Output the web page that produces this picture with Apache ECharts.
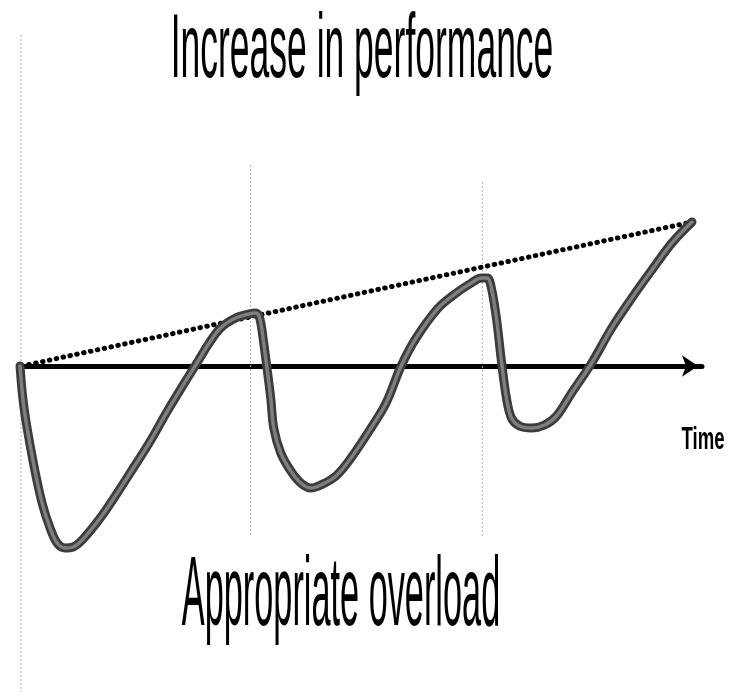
<!DOCTYPE html>
<html>
<head>
<meta charset="utf-8">
<script src="https://cdn.jsdelivr.net/npm/echarts@6/dist/echarts.min.js"></script>
<style>html,body{margin:0;padding:0;background:#fff}#c{width:738px;height:696px}</style>
</head>
<body>
<div id="c"></div>
<script>
// Time (x) and performance (y) in arbitrary units; 0 = baseline
const perfCurve = [
  [0,0],[0.4,-4.2],[1.3,-9.5],[2.2,-13.7],[3,-16.2],[3.7,-17.7],[4.5,-18.2],[5.3,-18.1],[6.2,-17.4],
  [8,-15.2],[9.7,-12.7],[11.3,-10.2],[13,-7.5],[14.7,-4.5],[16.7,-1.2],[17.7,0.4],[18.8,2.2],[20,3.8],
  [21.5,4.8],[22.8,5.2],[23.5,5.3],[23.9,4.8],[24.3,2.3],[24.6,0],[25,-3.2],[25.3,-6.2],[26,-8.7],
  [27,-10.5],[28,-11.7],[29,-12.2],[30,-11.9],[31.5,-11],[33,-9.2],[35,-6.2],[36.5,-3.7],[38,0],
  [39.5,2.8],[41.7,5.8],[43.5,7.3],[45,8.3],[46,8.8],[46.6,8.8],[47,7.8],[47.5,4.8],[48,0.5],
  [48.5,-3.2],[49,-5.2],[49.8,-6],[51,-6.2],[52.3,-5.9],[53.5,-5],[55,-2.7],[57,0.3],[59,3.8],
  [61,6.8],[63,9.6],[65,12.3],[67,14.4]
];
const trendLine = [[0.2,0],[67,14.4]];
const guideLines = [
  [[0.1,33.1],[0.1,-32.6]],
  [[23,20.1],[23,-16.9]],
  [[46.1,18.4],[46.1,-17.1]]
];
const titleText = 'Increase in performance';
const bottomText = 'Appropriate overload';
const axisName = 'Time';

const chart = echarts.init(document.getElementById('c'), null, {renderer:'canvas'});
const series = [];
guideLines.forEach(g => series.push({
  type:'line', data:g, symbol:'none', silent:true, z:1,
  lineStyle:{color:'#b0b0b0', width:1, type:[2,2]}
}));
series.push({
  type:'line', data:trendLine, symbol:'none', z:3,
  lineStyle:{color:'#000', width:5, type:[0.5,6.5], cap:'round'}
});
series.push({
  type:'line', data:perfCurve, symbol:'none', smooth:0.35, z:4,
  lineStyle:{color:'#3c3c3c', width:9, cap:'round', join:'round'}
});
series.push({
  type:'line', data:perfCurve, symbol:'none', smooth:0.35, z:5,
  lineStyle:{color:'#7e7e7e', width:3.5, cap:'round', join:'round'}
});

chart.setOption({
  animation:false,
  backgroundColor:'#fff',
  grid:{left:20, right:36, top:6, bottom:0},
  xAxis:{type:'value', min:0, max:68, axisTick:{show:false}, axisLabel:{show:false}, splitLine:{show:false},
    axisLine:{show:true, onZero:true, symbol:['none','arrow'], symbolSize:[16,16], symbolOffset:[0,-4],
      lineStyle:{color:'#000', width:5}}},
  yAxis:{type:'value', min:-33, max:36, show:false, splitLine:{show:false}},
  series:series,
  graphic:[
    {type:'text', x:362, y:52, scaleX:0.39, z:10,
      style:{text:titleText, font:'normal 91px "Liberation Sans", Arial, sans-serif', fill:'#000', textAlign:'center', textVerticalAlign:'middle'}},
    {type:'text', x:341, y:598, scaleX:0.35, z:10,
      style:{text:bottomText, font:'normal 98px "Liberation Sans", Arial, sans-serif', fill:'#000', textAlign:'center', textVerticalAlign:'middle'}},
    {type:'text', x:703, y:440, scaleX:0.6, z:10,
      style:{text:axisName, font:'bold 31px "Liberation Sans", Arial, sans-serif', fill:'#000', textAlign:'center', textVerticalAlign:'middle'}}
  ]
});
</script>
</body>
</html>
